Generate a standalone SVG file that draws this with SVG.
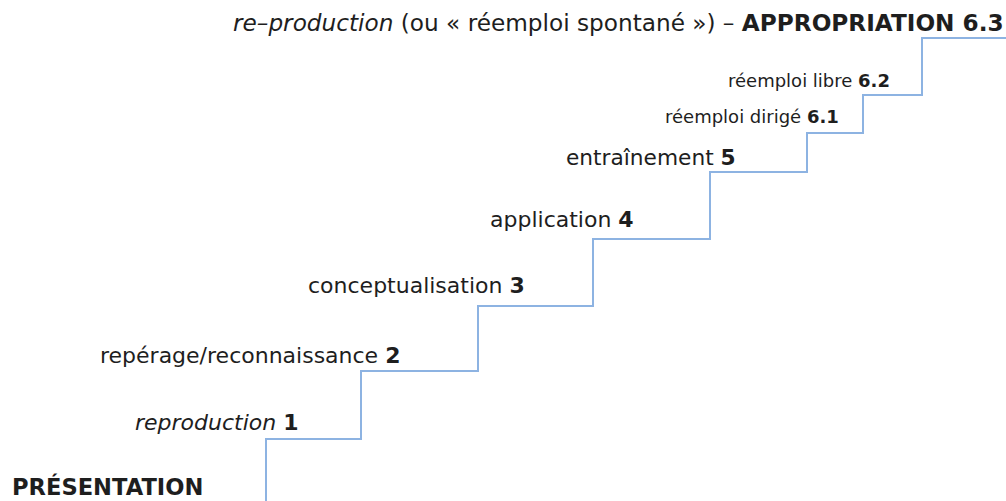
<svg xmlns="http://www.w3.org/2000/svg" width="1006" height="501" viewBox="0 0 1006 501">
<style>
.t{font-family:"DejaVu Sans","Liberation Sans",sans-serif;fill:#1e1e1e;font-size:22px}
.s{font-size:18px}
.b{font-weight:bold}
.i{font-style:italic}
.stair{fill:none;stroke:#8db3e2;stroke-width:2}
</style>
<rect width="1006" height="501" fill="#ffffff"/>
<g id="connectors">
<path class="stair" d="M266,501 V439 H361 V371 H478 V306 H593 V239 H710 V172 H807 V133 H863 V95 H922 V38 H1006"/>
</g>
<g id="n0"><text class="t b" x="12" y="495" style="font-size:22.6px">PRÉSENTATION</text></g>
<g id="n1"><text class="t" x="135" y="430"><tspan class="i">reproduction</tspan> <tspan class="b">1</tspan></text></g>
<g id="n2"><text class="t" x="100" y="363">repérage/reconnaissance <tspan class="b">2</tspan></text></g>
<g id="n3"><text class="t" x="308" y="293">conceptualisation <tspan class="b">3</tspan></text></g>
<g id="n4"><text class="t" x="490" y="227">application <tspan class="b">4</tspan></text></g>
<g id="n5"><text class="t" x="566" y="165" style="font-size:21.7px">entraînement <tspan class="b">5</tspan></text></g>
<g id="n61"><text class="t s" x="665" y="123">réemploi dirigé <tspan class="b">6.1</tspan></text></g>
<g id="n62"><text class="t s" x="728" y="87">réemploi libre <tspan class="b">6.2</tspan></text></g>
<g id="n63"><text class="t" x="233" y="31" style="font-size:23.2px"><tspan class="i">re–production</tspan> (ou « réemploi spontané ») – <tspan class="b">APPROPRIATION 6.3</tspan></text></g>
</svg>
